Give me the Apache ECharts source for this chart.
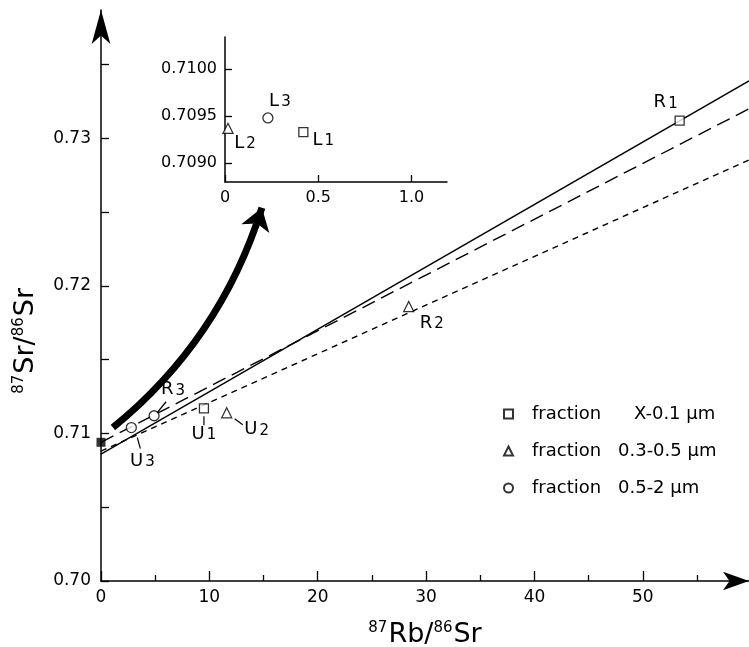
<!DOCTYPE html>
<html>
<head>
<meta charset="utf-8">
<script src="https://cdn.jsdelivr.net/npm/echarts@6/dist/echarts.min.js"></script>
<style>
  html, body { margin: 0; padding: 0; background: #fff; }
  #main { width: 749px; height: 647px; }
</style>
</head>
<body>
<div id="main"></div>
<script>
// axis ticks
var xTicks = [0, 10, 20, 30, 40, 50];
var xMinorTicks = [5, 15, 25, 35, 45, 55];
var yTicks = [0.70, 0.71, 0.72, 0.73];
var yMinorTicks = [0.705, 0.715, 0.725, 0.735];
var xMax = 59.8, yMin = 0.70, yMax = 0.7387;

// sample points (87Rb/86Sr, 87Sr/86Sr)
var squareNames = ['R1', 'U1'];
var squareX = [53.4, 9.5];
var squareY = [0.7312, 0.7117];
var triangleNames = ['R2', 'U2'];
var triangleX = [28.4, 11.6];
var triangleY = [0.7186, 0.7114];
var circleNames = ['R3', 'U3'];
var circleX = [4.9, 2.8];
var circleY = [0.7112, 0.7104];
var initialX = [0];
var initialY = [0.7094];

// inset (leached fractions)
var insetNames = ['L1', 'L2', 'L3'];
var insetX = [0.42, 0.016, 0.23];
var insetY = [0.70933, 0.70937, 0.70948];
var insetXTicks = [0, 0.5, 1.0];
var insetYTicks = [0.7090, 0.7095, 0.7100];

// isochron lines: y = a + b*x
var lineNames = ['solid', 'longdash', 'shortdash'];
var lineIntercept = [0.7086, 0.7094, 0.7088];
var lineSlope = [0.000423, 0.000378, 0.000330];

var legendNames = ['sq', 'tri', 'circ'];
var legendText = {
  sq: '{a|fraction}{c|X-0.1 µm}',
  tri: '{a|fraction}{b|0.3-0.5 µm}',
  circ: '{a|fraction}{b|0.5-2 µm}'
};

// label placement (pixels from point)
var labelPos = {
  R1: [-14, -18], U1: [0, 26], R2: [23, 17], U2: [30, 17], R3: [19, -26], U3: [11, 34],
  L1: [20, 8], L2: [17, 15], L3: [12, -17]
};
var leaders = {
  R3: [[3, -3], [12, -14]], U1: [[0, 8], [0, 17]], U2: [[8, 6], [16, 12]], U3: [[6, 10], [9, 21]]
};

var FONT = 'DejaVu Sans';

function pts(xs, ys) {
  return xs.map(function (x, i) { return [x, ys[i]]; });
}
function named(names, xs, ys) {
  return names.map(function (n, i) { return [xs[i], ys[i], n]; });
}

var chart = echarts.init(document.getElementById('main'));

function labelSeries(xIdx, yIdx, data) {
  return {
    type: 'custom',
    xAxisIndex: xIdx, yAxisIndex: yIdx,
    silent: true, clip: false, z: 5,
    data: data,
    renderItem: function (params, api) {
      var p = api.coord([api.value(0), api.value(1)]);
      var name = data[params.dataIndex][2];
      var off = labelPos[name];
      var kids = [{
        type: 'text',
        style: {
          text: name.charAt(0) + '{s|' + name.substring(1) + '}',
          x: p[0] + off[0], y: p[1] + off[1],
          align: 'center', verticalAlign: 'middle',
          fill: '#000', font: '18px ' + FONT,
          rich: { s: { fontSize: 15, fontFamily: FONT, padding: [2, 0, 0, 2] } }
        }
      }];
      if (leaders[name]) {
        var l = leaders[name];
        kids.push({
          type: 'line',
          shape: { x1: p[0] + l[0][0], y1: p[1] + l[0][1], x2: p[0] + l[1][0], y2: p[1] + l[1][1] },
          style: { stroke: '#000', lineWidth: 1.2 }
        });
      }
      return { type: 'group', children: kids };
    }
  };
}

var lineTypes = ['solid', [14, 7], [6, 5]];
var lineSeries = lineNames.map(function (n, i) {
  return {
    name: n, type: 'line', xAxisIndex: 0, yAxisIndex: 0,
    symbol: 'none', silent: true, z: 2,
    lineStyle: { color: '#000', width: 1.4, type: lineTypes[i] },
    data: [[0, lineIntercept[i]], [xMax, lineIntercept[i] + lineSlope[i] * xMax]]
  };
});

var markerStyle = { color: '#fff', borderColor: '#000', borderWidth: 1.3 };
var supRich = { s: { fontSize: 15, fontFamily: FONT, verticalAlign: 'top', padding: [0, 1, 12, 0] } };

var option = {
  animation: false,
  textStyle: { fontFamily: FONT, color: '#000' },
  grid: [
    { left: 101, top: 10, right: 0, bottom: 66, outerBoundsMode: 'none', containLabel: false },
    { left: 225, top: 37, width: 222, height: 145, outerBoundsMode: 'none', containLabel: false }
  ],
  legend: {
    orient: 'vertical', left: 498, top: 400, itemGap: 19,
    itemWidth: 9, itemHeight: 9,
    data: legendNames,
    formatter: function (n) { return legendText[n]; },
    textStyle: {
      fontSize: 18, fontFamily: FONT, color: '#000',
      rich: {
        a: { fontSize: 18, fontFamily: FONT, width: 86, padding: [0, 0, 0, 14] },
        b: { fontSize: 18, fontFamily: FONT },
        c: { fontSize: 18, fontFamily: FONT, padding: [0, 0, 0, 16] }
      }
    }
  },
  xAxis: [
    {
      gridIndex: 0, type: 'value', min: 0, max: xMax,
      name: '{s|87}Rb/{s|86}Sr', nameLocation: 'middle', nameGap: 40,
      nameTextStyle: { fontSize: 27, fontFamily: FONT, color: '#000', rich: supRich },
      axisLine: { show: true, onZero: false, lineStyle: { color: '#000', width: 1.5 },
        symbol: ['none', 'arrow'], symbolSize: [14, 26], symbolOffset: [0, 0] },
      axisTick: { show: true, inside: true, length: 10, lineStyle: { color: '#000', width: 1.3 },
        customValues: xTicks },
      axisLabel: { fontSize: 17, color: '#000', margin: 8, customValues: xTicks },
      splitLine: { show: false }
    },
    {
      gridIndex: 0, type: 'value', min: 0, max: xMax, position: 'bottom',
      axisLine: { show: false },
      axisTick: { show: true, inside: true, length: 6, lineStyle: { color: '#000', width: 1.3 },
        customValues: xMinorTicks },
      axisLabel: { show: false },
      splitLine: { show: false }
    },
    {
      gridIndex: 1, type: 'value', min: 0, max: 1.19,
      axisLine: { show: true, onZero: false, lineStyle: { color: '#000', width: 1.5 } },
      axisTick: { show: true, inside: true, length: 7, lineStyle: { color: '#000', width: 1.3 },
        customValues: insetXTicks },
      axisLabel: { fontSize: 16, color: '#000', margin: 8, customValues: insetXTicks,
        formatter: function (v) { return v === 0 ? '0' : v.toFixed(1); } },
      splitLine: { show: false }
    }
  ],
  yAxis: [
    {
      gridIndex: 0, type: 'value', min: yMin, max: yMax,
      axisLine: { show: true, onZero: false, lineStyle: { color: '#000', width: 1.5 },
        symbol: ['none', 'arrow'], symbolSize: [14, 34] },
      axisTick: { show: true, inside: true, length: 8, lineStyle: { color: '#000', width: 1.3 },
        customValues: yTicks.concat(yMinorTicks) },
      axisLabel: { fontSize: 17, color: '#000', margin: 10, customValues: yTicks,
        formatter: function (v) { return v.toFixed(2); } },
      splitLine: { show: false }
    },
    {
      gridIndex: 1, type: 'value', min: 0.70880, max: 0.71034,
      axisLine: { show: true, onZero: false, lineStyle: { color: '#000', width: 1.5 } },
      axisTick: { show: true, inside: true, length: 7, lineStyle: { color: '#000', width: 1.3 },
        customValues: insetYTicks },
      axisLabel: { fontSize: 16, color: '#000', margin: 8, customValues: insetYTicks,
        formatter: function (v) { return v.toFixed(4); } },
      splitLine: { show: false }
    }
  ],
  graphic: [{
    type: 'text', left: 12, top: 288, rotation: Math.PI / 2,
    style: { text: '{s|87}Sr/{s|86}Sr', fill: '#000', font: '27px ' + FONT, rich: supRich }
  }],
  series: lineSeries.concat([
    {
      name: 'arrow', type: 'lines', coordinateSystem: 'cartesian2d', xAxisIndex: 0, yAxisIndex: 0,
      silent: true, z: 3,
      symbol: ['none', 'arrow'], symbolSize: 22,
      lineStyle: { color: '#000', width: 7, curveness: -0.15, opacity: 1 },
      data: [{ coords: [[1.1, 0.7104], [14.85, 0.7253]] }]
    },
    { name: 'sq', type: 'scatter', xAxisIndex: 0, yAxisIndex: 0, symbol: 'rect', symbolSize: 9,
      itemStyle: markerStyle, z: 4, data: pts(squareX, squareY) },
    { name: 'tri', type: 'scatter', xAxisIndex: 0, yAxisIndex: 0, symbol: 'triangle', symbolSize: 10,
      itemStyle: markerStyle, z: 4, data: pts(triangleX, triangleY) },
    { name: 'circ', type: 'scatter', xAxisIndex: 0, yAxisIndex: 0, symbol: 'circle', symbolSize: 10,
      itemStyle: markerStyle, z: 4, data: pts(circleX, circleY) },
    { name: 'initial', type: 'scatter', xAxisIndex: 0, yAxisIndex: 0, symbol: 'rect', symbolSize: 9,
      clip: false, itemStyle: { color: '#000' }, z: 4, data: pts(initialX, initialY) },
    { name: 'sq', type: 'scatter', xAxisIndex: 2, yAxisIndex: 1, symbol: 'rect', symbolSize: 9,
      itemStyle: markerStyle, clip: false, z: 4, data: [[insetX[0], insetY[0]]] },
    { name: 'tri', type: 'scatter', xAxisIndex: 2, yAxisIndex: 1, symbol: 'triangle', symbolSize: 10,
      itemStyle: markerStyle, clip: false, z: 4, data: [[insetX[1], insetY[1]]] },
    { name: 'circ', type: 'scatter', xAxisIndex: 2, yAxisIndex: 1, symbol: 'circle', symbolSize: 10,
      itemStyle: markerStyle, clip: false, z: 4, data: [[insetX[2], insetY[2]]] },
    labelSeries(0, 0, named(squareNames, squareX, squareY)
      .concat(named(triangleNames, triangleX, triangleY))
      .concat(named(circleNames, circleX, circleY))),
    labelSeries(2, 1, named(insetNames, insetX, insetY))
  ])
};
chart.setOption(option);
</script>
</body>
</html>
